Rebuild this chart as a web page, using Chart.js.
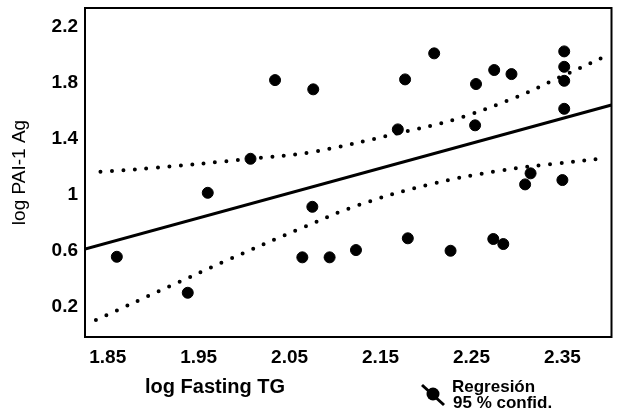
<!DOCTYPE html>
<html>
<head>
<meta charset="utf-8">
<script src="https://cdn.jsdelivr.net/npm/chart.js@4"></script>
<style>
  html, body { margin: 0; padding: 0; background: #fff; }
  #wrap { width: 618px; height: 414px; position: relative; }
</style>
</head>
<body>
<div id="wrap"><canvas id="chart"></canvas></div>
<script>
// log Fasting TG (x) vs log PAI-1 Ag (y), one point per subject
const tgValues  = [2.034, 2.076, 2.209, 2.177, 2.169, 2.007, 1.960, 2.255, 2.275, 2.294,
                   2.254, 2.352, 2.352, 2.352, 2.352, 2.315, 2.309, 2.350, 2.075, 1.860,
                   1.938, 2.064, 2.094, 2.123, 2.180, 2.227, 2.274, 2.285];
const paiValues = [1.821, 1.755, 2.012, 1.826, 1.469, 1.259, 1.016, 1.793, 1.893, 1.864,
                   1.498, 2.026, 1.916, 1.816, 1.616, 1.155, 1.076, 1.107, 0.916, 0.559,
                   0.302, 0.555, 0.555, 0.607, 0.691, 0.602, 0.686, 0.650];

// regression line (ends at the frame)
const regX = [1.825, 2.404];
const regY = [0.614, 1.643];

// 95 % confidence band
const upperX = [1.842, 1.895, 2.007, 2.076, 2.169, 2.232, 2.296, 2.347, 2.396];
const upperY = [1.166, 1.191, 1.259, 1.309, 1.441, 1.541, 1.691, 1.841, 1.988];
const lowerX = [1.837, 1.917, 1.982, 2.060, 2.124, 2.203, 2.281, 2.345, 2.396];
const lowerY = [0.107, 0.345, 0.536, 0.755, 0.924, 1.074, 1.174, 1.226, 1.262];

const xTicks = [1.85, 1.95, 2.05, 2.15, 2.25, 2.35];
const xTickLabels = ['1.85', '1.95', '2.05', '2.15', '2.25', '2.35'];
const yTicks = [0.2, 0.6, 1, 1.4, 1.8, 2.2];
const yTickLabels = ['0.2', '0.6', '1', '1.4', '1.8', '2.2'];

const FONT = "'Liberation Sans', Arial, sans-serif";
const pts = (xs, ys) => xs.map((x, i) => ({ x: x, y: ys[i] }));

// frame round the plot area
const framePlugin = {
  id: 'frame',
  afterDatasetsDraw(chart) {
    const a = chart.chartArea, ctx = chart.ctx;
    ctx.save();
    ctx.strokeStyle = '#000';
    ctx.lineWidth = 2;
    ctx.strokeRect(a.left, a.top, a.right - a.left, a.bottom - a.top);
    ctx.restore();
  }
};

// x title and the small legend sit at fixed spots under the plot
const notesPlugin = {
  id: 'notes',
  afterDraw(chart) {
    const ctx = chart.ctx;
    ctx.save();
    ctx.fillStyle = '#000';
    ctx.textBaseline = 'alphabetic';
    ctx.font = 'bold 20px ' + FONT;
    ctx.textAlign = 'center';
    ctx.fillText('log Fasting TG', 215, 393);

    // legend icon: dot with a line through it
    ctx.strokeStyle = '#000';
    ctx.lineWidth = 3;
    ctx.beginPath();
    ctx.moveTo(422, 385);
    ctx.lineTo(444, 405);
    ctx.stroke();
    ctx.beginPath();
    ctx.arc(433, 394, 6.5, 0, Math.PI * 2);
    ctx.fill();

    ctx.font = 'bold 17px ' + FONT;
    ctx.textAlign = 'left';
    ctx.fillText('Regresión', 452, 392);
    ctx.fillText('95 % confid.', 453, 408);
    ctx.restore();
  }
};

const band = (data) => ({
  type: 'line',
  data: data,
  showLine: true,
  borderColor: '#000',
  borderWidth: 4,
  borderDash: [0, 11.5],
  borderCapStyle: 'round',
  tension: 0.4,
  pointRadius: 0,
  fill: false
});

new Chart(document.getElementById('chart'), {
  type: 'scatter',
  data: {
    datasets: [
      {
        data: pts(tgValues, paiValues),
        backgroundColor: '#000',
        borderColor: '#000',
        pointRadius: 5.5,
        pointHoverRadius: 5.5
      },
      {
        type: 'line',
        data: pts(regX, regY),
        borderColor: '#000',
        borderWidth: 3,
        pointRadius: 0,
        fill: false
      },
      band(pts(upperX, upperY)),
      band(pts(lowerX, lowerY))
    ]
  },
  options: {
    responsive: true,
    maintainAspectRatio: false,
    animation: false,
    layout: { padding: { top: 8, right: 4, left: 0, bottom: 0 } },
    plugins: { legend: { display: false }, tooltip: { enabled: false } },
    scales: {
      x: {
        type: 'linear',
        min: 1.825,
        max: 2.404,
        grid: { display: false, drawTicks: false },
        border: { display: false },
        afterBuildTicks: (s) => { s.ticks = xTicks.map(v => ({ value: v })); },
        afterFit: (s) => { s.height = 77; s.paddingLeft = 0; s.paddingRight = 0; },
        ticks: {
          autoSkip: false,
          maxRotation: 0,
          padding: 9,
          color: '#000',
          font: { family: FONT, size: 19, weight: 'bold' },
          callback: (v, i) => xTickLabels[i]
        }
      },
      y: {
        min: -0.014,
        max: 2.336,
        grid: { display: false, drawTicks: false },
        border: { display: false },
        afterBuildTicks: (s) => { s.ticks = yTicks.map(v => ({ value: v })); },
        afterFit: (s) => { s.width = 85; s.paddingTop = 0; s.paddingBottom = 0; },
        title: {
          display: true,
          text: 'log PAI-1 Ag',
          color: '#000',
          font: { family: FONT, size: 19 },
          padding: { top: 8, bottom: 0 }
        },
        ticks: {
          autoSkip: false,
          padding: 7,
          color: '#000',
          font: { family: FONT, size: 19, weight: 'bold' },
          callback: (v, i) => yTickLabels[i]
        }
      }
    }
  },
  plugins: [framePlugin, notesPlugin]
});
</script>
</body>
</html>
